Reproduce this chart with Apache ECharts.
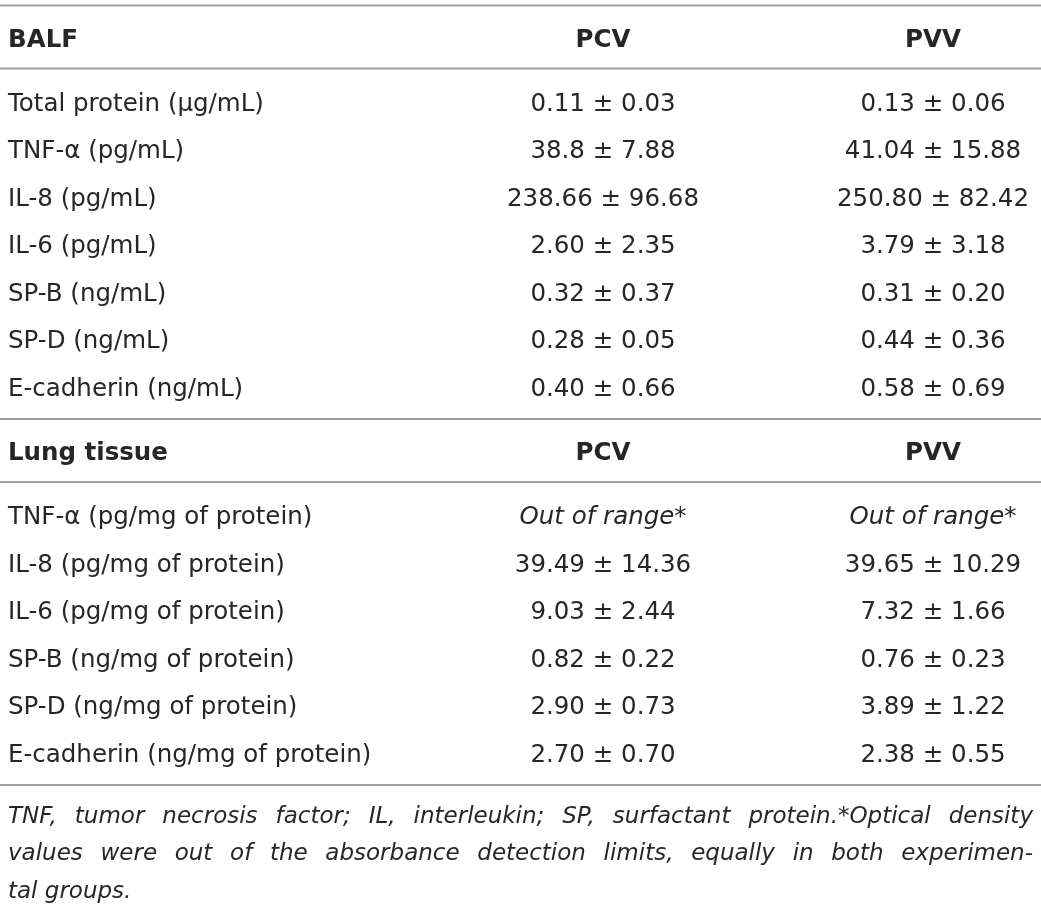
<!DOCTYPE html>
<html>
<head>
<meta charset="utf-8">
<script src="https://cdn.jsdelivr.net/npm/echarts@6/dist/echarts.min.js"></script>
<style>
  html, body { margin: 0; padding: 0; background: #fff; }
  #main { width: 1041px; height: 912px; }
</style>
</head>
<body>
<div id="main"></div>
<script>
// table contents
var columns = ['PCV', 'PVV'];

var balfLabels = ['Total protein (\u03bcg/mL)', 'TNF-\u03b1 (pg/mL)', 'IL-8 (pg/mL)', 'IL-6 (pg/mL)',
  'SP-B (ng/mL)', 'SP-D (ng/mL)', 'E-cadherin (ng/mL)'];
var balfPcvMean = ['0.11', '38.8', '238.66', '2.60', '0.32', '0.28', '0.40'];
var balfPcvSd = ['0.03', '7.88', '96.68', '2.35', '0.37', '0.05', '0.66'];
var balfPvvMean = ['0.13', '41.04', '250.80', '3.79', '0.31', '0.44', '0.58'];
var balfPvvSd = ['0.06', '15.88', '82.42', '3.18', '0.20', '0.36', '0.69'];

var lungLabels = ['TNF-\u03b1 (pg/mg of protein)', 'IL-8 (pg/mg of protein)', 'IL-6 (pg/mg of protein)',
  'SP-B (ng/mg of protein)', 'SP-D (ng/mg of protein)', 'E-cadherin (ng/mg of protein)'];
var lungPcvMean = [null, '39.49', '9.03', '0.82', '2.90', '2.70'];
var lungPcvSd = [null, '14.36', '2.44', '0.22', '0.73', '0.70'];
var lungPvvMean = [null, '39.65', '7.32', '0.76', '3.89', '2.38'];
var lungPvvSd = [null, '10.29', '1.66', '0.23', '1.22', '0.55'];

var outOfRange = 'Out of range*';
var footnoteLines = [
  'TNF, tumor necrosis factor; IL, interleukin; SP, surfactant protein.*Optical density',
  'values were out of the absorbance detection limits, equally in both experimen-',
  'tal groups.'
];

// layout
var W = 1041, H = 912;
var labelX = 8, pcvX = 603, pvvX = 933, rightX = 1033;
var rowStep = 47.5;
var textColor = '#262626', ruleColor = '#a0a0a0';
var bodyFont = 'DejaVu Sans', bodySize = 24.5;

var cells = [];
var rules = [];

function cellText(m, s) {
  return m == null ? outOfRange : m + ' \u00b1 ' + s;
}

function addSection(top, title, labels, pm, ps, vm, vs) {
  rules.push(top);
  var headY = top + 35;
  cells.push({ x: labelX, y: headY, text: title, kind: 'head' });
  cells.push({ x: pcvX, y: headY, text: columns[0], kind: 'headCol' });
  cells.push({ x: pvvX, y: headY, text: columns[1], kind: 'headCol' });
  var lineY = top + 63;
  rules.push(lineY);
  var y0 = lineY + 36;
  labels.forEach(function (lab, i) {
    var ry = y0 + i * rowStep;
    cells.push({ x: labelX, y: ry, text: lab, kind: 'label' });
    cells.push({ x: pcvX, y: ry, text: cellText(pm[i], ps[i]), kind: pm[i] == null ? 'italic' : 'value' });
    cells.push({ x: pvvX, y: ry, text: cellText(vm[i], vs[i]), kind: vm[i] == null ? 'italic' : 'value' });
  });
  return y0 + (labels.length - 1) * rowStep + 29.5;
}

var next = addSection(5.5, 'BALF', balfLabels, balfPcvMean, balfPcvSd, balfPvvMean, balfPvvSd);
var tableEnd = addSection(next, 'Lung tissue', lungLabels, lungPcvMean, lungPcvSd, lungPvvMean, lungPvvSd);
rules.push(tableEnd);

// footnote: pick a size so the first line nearly fills the width, then justify
var ctx = document.createElement('canvas').getContext('2d');
function noteFontOf(size) { return 'italic ' + size + 'px "DejaVu Sans"'; }
ctx.font = noteFontOf(20);
var natural = ctx.measureText(footnoteLines[0]).width;
var noteSize = Math.min(23, Math.floor(20 * (rightX - labelX - 12) / natural * 10) / 10);
ctx.font = noteFontOf(noteSize);

var noteElements = [];
footnoteLines.forEach(function (line, li) {
  var y = tableEnd + 32 + li * 37.5;
  var words = line.split(' ');
  var last = li === footnoteLines.length - 1;
  var widths = words.map(function (w) { return ctx.measureText(w).width; });
  var total = widths.reduce(function (a, b) { return a + b; }, 0);
  var gap = last ? ctx.measureText(' ').width : (rightX - labelX - total) / (words.length - 1);
  var x = labelX;
  words.forEach(function (w, wi) {
    noteElements.push({
      type: 'text', x: x, y: y,
      style: {
        text: w, fill: textColor, fontFamily: 'DejaVu Sans', fontSize: noteSize,
        fontStyle: 'italic', textAlign: 'left', textVerticalAlign: 'middle'
      }
    });
    x += widths[wi] + gap;
  });
});

var chart = echarts.init(document.getElementById('main'));

var option = {
  animation: false,
  grid: { left: 0, right: 0, top: 0, bottom: 0 },
  xAxis: { type: 'value', min: 0, max: W, show: false },
  yAxis: { type: 'value', min: 0, max: H, inverse: true, show: false },
  graphic: noteElements,
  series: [
    {
      type: 'custom',
      name: 'rules',
      data: rules.map(function (y) { return [0, y]; }),
      renderItem: function (params, api) {
        var a = api.coord([0, api.value(1)]);
        var b = api.coord([W, api.value(1)]);
        return {
          type: 'line',
          shape: { x1: a[0], y1: a[1], x2: b[0], y2: b[1] },
          style: { stroke: ruleColor, lineWidth: 2 }
        };
      }
    },
    {
      type: 'custom',
      name: 'cells',
      data: cells.map(function (c) { return [c.x, c.y]; }),
      renderItem: function (params, api) {
        var c = cells[params.dataIndex];
        var p = api.coord([api.value(0), api.value(1)]);
        var bold = c.kind === 'head' || c.kind === 'headCol';
        return {
          type: 'text',
          x: p[0],
          y: p[1],
          style: {
            text: c.text,
            fill: textColor,
            fontFamily: bodyFont,
            fontSize: bodySize,
            fontWeight: bold ? 'bold' : 'normal',
            fontStyle: c.kind === 'italic' ? 'italic' : 'normal',
            textAlign: c.x === labelX ? 'left' : 'center',
            textVerticalAlign: 'middle'
          }
        };
      }
    }
  ]
};

chart.setOption(option);
</script>
</body>
</html>
